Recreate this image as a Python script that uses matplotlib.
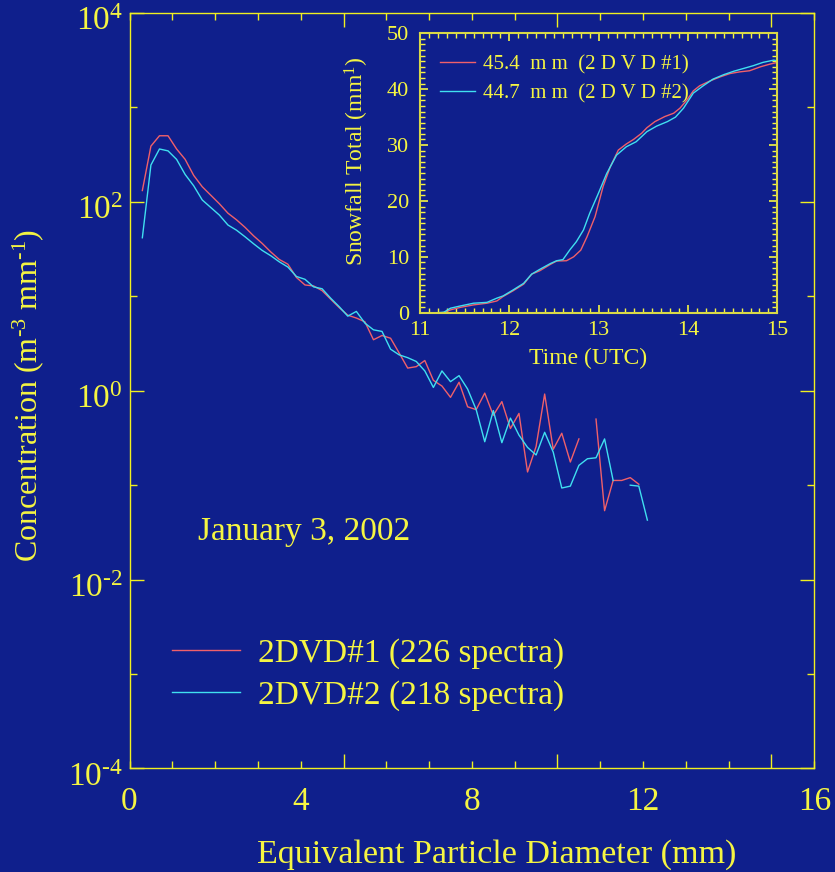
import numpy as np
import matplotlib
matplotlib.use('Agg')
import matplotlib.pyplot as plt
import matplotlib.transforms as mtrans
from matplotlib.ticker import FixedLocator, MultipleLocator, NullFormatter

plt.rcParams['font.family'] = ['Liberation Serif', 'DejaVu Serif']
plt.rcParams['mathtext.fontset'] = 'custom'
plt.rcParams['mathtext.rm'] = 'Liberation Serif'
plt.rcParams['mathtext.it'] = 'Liberation Serif:italic'
plt.rcParams['mathtext.bf'] = 'Liberation Serif:bold'

bg = '#0f1f8c'
yellow = '#f5f542'
spine_col = '#f0f020'
red = '#f0606a'
cyan = '#40e0f0'

# size spectra (diameter in mm, log10 of concentration in m^-3 mm^-1)
diam = [0.3, 0.5, 0.7, 0.9, 1.1, 1.3, 1.5, 1.7, 1.9, 2.1, 2.3, 2.5, 2.7, 2.9, 3.1,
        3.3, 3.5, 3.7, 3.9, 4.1, 4.3, 4.5, 4.7, 4.9, 5.1, 5.3, 5.5, 5.7, 5.9, 6.1,
        6.3, 6.5, 6.7, 6.9, 7.1, 7.3, 7.5, 7.7, 7.9, 8.1, 8.3, 8.5, 8.7, 8.9, 9.1,
        9.3, 9.5, 9.7, 9.9, 10.1, 10.3, 10.5, 10.7, 10.9, 11.1, 11.3, 11.5, 11.7,
        11.9, 12.1]
log_conc1 = [2.12, 2.59, 2.70, 2.70, 2.56, 2.45, 2.28, 2.16, 2.07, 1.98, 1.88, 1.81,
             1.73, 1.64, 1.56, 1.47, 1.39, 1.34, 1.20, 1.12, 1.11, 1.06, 0.97, 0.88,
             0.80, 0.77, 0.73, 0.54, 0.585, 0.556, 0.40, 0.24, 0.255, 0.32, 0.11,
             0.05, -0.07, 0.09, -0.17, -0.20, -0.025, -0.26, -0.115, -0.40, -0.24,
             -0.86, -0.59, -0.035, -0.62, -0.45, -0.755, -0.51, np.nan, -0.30, -1.27,
             -0.95, -0.95, -0.92, -0.99, np.nan]
log_conc2 = [1.62, 2.39, 2.56, 2.54, 2.45, 2.29, 2.17, 2.02, 1.94, 1.86, 1.755, 1.70,
             1.63, 1.556, 1.486, 1.43, 1.365, 1.31, 1.21, 1.18, 1.10, 1.08, 0.98, 0.89,
             0.79, 0.84, 0.716, 0.645, 0.628, 0.44, 0.38, 0.35, 0.31, 0.21, 0.035,
             0.21, 0.096, 0.16, 0.018, -0.20, -0.54, -0.21, -0.55, -0.29, -0.47, -0.60,
             -0.68, -0.44, -0.65, -1.03, -1.01, -0.79, -0.72, -0.71, -0.51, -0.95,
             np.nan, -1.00, -1.01, -1.37]

# accumulated snowfall (inset)
time1 = [11.26, 11.34, 11.45, 11.60, 11.75, 11.86, 11.93, 12.04, 12.16, 12.25, 12.34,
         12.46, 12.53, 12.64, 12.72, 12.80, 12.87, 12.96, 13.05, 13.13, 13.22, 13.31,
         13.39, 13.48, 13.54, 13.63, 13.74, 13.84, 13.91, 13.99, 14.06, 14.13, 14.25,
         14.36, 14.47, 14.58, 14.69, 14.81, 14.92, 14.99]
snow1 = [0.0, 0.5, 0.95, 1.4, 1.7, 2.1, 2.9, 3.9, 5.1, 6.9, 7.5, 8.65, 9.25, 9.3, 10.0,
         11.2, 13.6, 17.2, 22.6, 26.1, 29.1, 30.2, 31.0, 32.1, 33.1, 34.2, 35.1, 35.7,
         36.6, 38.1, 39.7, 40.6, 41.5, 42.2, 42.8, 43.1, 43.3, 44.0, 44.5, 44.75]
time2 = [11.20, 11.27, 11.34, 11.45, 11.60, 11.75, 11.86, 11.93, 12.04, 12.16, 12.25,
         12.34, 12.46, 12.53, 12.60, 12.68, 12.75, 12.83, 12.90, 12.99, 13.09, 13.20,
         13.31, 13.42, 13.54, 13.65, 13.77, 13.86, 13.95, 14.06, 14.17, 14.28, 14.40,
         14.51, 14.62, 14.73, 14.84, 14.96, 14.99]
snow2 = [0.0, 0.1, 0.8, 1.2, 1.7, 1.85, 2.6, 3.0, 4.05, 5.25, 6.9, 7.75, 8.8, 9.3, 9.5,
         11.3, 12.7, 14.8, 17.8, 21.1, 24.9, 28.2, 29.7, 30.6, 32.4, 33.4, 34.2, 35.0,
         36.6, 39.3, 40.6, 41.8, 42.6, 43.2, 43.7, 44.2, 44.8, 45.2, 45.1]

conc1 = 10 ** np.array(log_conc1)
conc2 = 10 ** np.array(log_conc2)

fig = plt.figure(figsize=(8.35, 8.72), dpi=100, facecolor=bg)
ax = fig.add_axes([0.1551, 0.1187, 0.8201, 0.8664], facecolor=bg)

ax.plot(diam, conc1, color=red, lw=1.0, label='2DVD#1 (226 spectra)')
ax.plot(diam, conc2, color=cyan, lw=1.0, label='2DVD#2 (218 spectra)')

ax.set_yscale('log')
ax.set_xlim(0, 16)
ax.set_ylim(1e-4, 1e4)

for s in ax.spines.values():
    s.set_color(spine_col)
    s.set_linewidth(1.0)

# x ticks: long at 5,10,15, short every 1 mm, labels at 0,4,8,12,16 on a secondary axis
ax.xaxis.set_major_locator(FixedLocator([5, 10, 15]))
ax.xaxis.set_minor_locator(MultipleLocator(1))
ax.xaxis.set_major_formatter(NullFormatter())
ax.yaxis.set_minor_locator(FixedLocator([1e-3, 1e-1, 1e1, 1e3]))
ax.yaxis.set_minor_formatter(NullFormatter())
hy = '\u2010'
ax.set_yticks([1e-4, 1e-2, 1e0, 1e2, 1e4],
              [r'$\mathregular{10^{%s4}}$' % hy, r'$\mathregular{10^{%s2}}$' % hy,
               r'$\mathregular{10^{0}}$', r'$\mathregular{10^{2}}$', r'$\mathregular{10^{4}}$'])
ax.tick_params(which='both', direction='in', top=True, right=True, color=spine_col,
               labelcolor=yellow, labelsize=24)
ax.tick_params(which='major', length=10, width=1.0)
ax.tick_params(which='minor', length=5, width=1.0)
ax.tick_params(axis='y', which='major', pad=5)

off = mtrans.ScaledTranslation(0, -4 / 72, fig.dpi_scale_trans)
for lbl in ax.get_yticklabels():
    lbl.set_transform(lbl.get_transform() + off)

sec = ax.secondary_xaxis('bottom')
sec.set_xticks([0, 4, 8, 12, 16])
sec.tick_params(length=0, labelsize=24, labelcolor=yellow, pad=13)
sec.spines['bottom'].set_visible(False)

ax.set_xlabel('Equivalent Particle Diameter (mm)', fontsize=24.5, color=yellow)
ax.xaxis.set_label_coords(0.536, -0.094)
ax.set_ylabel(r'Concentration (m$^{\mathregular{%s3}}$ mm$^{\mathregular{%s1}}$)' % (hy, hy),
              fontsize=23, color=yellow)
ax.yaxis.set_label_coords(-0.122, 0.494)

ax.text(0.2556, 0.314, 'January 3, 2002', transform=ax.transAxes, fontsize=24,
        color=yellow, ha='center', va='center')

leg = ax.legend(loc='upper left', bbox_to_anchor=(0.0616, 0.172), frameon=False,
                fontsize=24, handlelength=2.04, handletextpad=0.54, labelspacing=0.33,
                borderpad=0, borderaxespad=0)
for t in leg.get_texts():
    t.set_color(yellow)

# inset: snowfall total
ins = fig.add_axes([0.5030, 0.6414, 0.4279, 0.3204], facecolor=bg)
ins.plot(time1, snow1, color=red, lw=1.0, label='45.4  m m  (2 D V D #1)')
ins.plot(time2, snow2, color=cyan, lw=1.0, label='44.7  m m  (2 D V D #2)')
ins.set_xlim(11, 15)
ins.set_ylim(0, 50)
ins.xaxis.set_major_locator(MultipleLocator(1))
ins.xaxis.set_minor_locator(MultipleLocator(0.1))
ins.yaxis.set_major_locator(MultipleLocator(10))
ins.yaxis.set_minor_locator(MultipleLocator(1))
for s in ins.spines.values():
    s.set_color('#d8d848')
    s.set_linewidth(1.5)
ins.tick_params(which='both', direction='in', top=True, right=True, color=yellow,
                labelcolor=yellow, labelsize=16)
ins.tick_params(which='major', length=6, width=1.2)
ins.tick_params(which='minor', length=3.5, width=1.0)
ins.tick_params(axis='x', which='major', pad=6)
ins.tick_params(axis='y', which='major', pad=8)
ins.set_xlabel('Time (UTC)', fontsize=17, color=yellow)
ins.xaxis.set_label_coords(0.469, -0.126)
ins.set_ylabel(r'Snowfall Total (mm$^{\mathregular{1}}$)', fontsize=17, color=yellow)
ins.yaxis.set_label_coords(-0.1385, 0.541)

leg2 = ins.legend(loc='upper left', bbox_to_anchor=(0.056, 0.922), frameon=False,
                  fontsize=15, handlelength=1.68, handletextpad=0.38, labelspacing=0.45,
                  borderpad=0, borderaxespad=0)
for t in leg2.get_texts():
    t.set_color(yellow)

fig.savefig('out.png', dpi=100, facecolor=bg)
